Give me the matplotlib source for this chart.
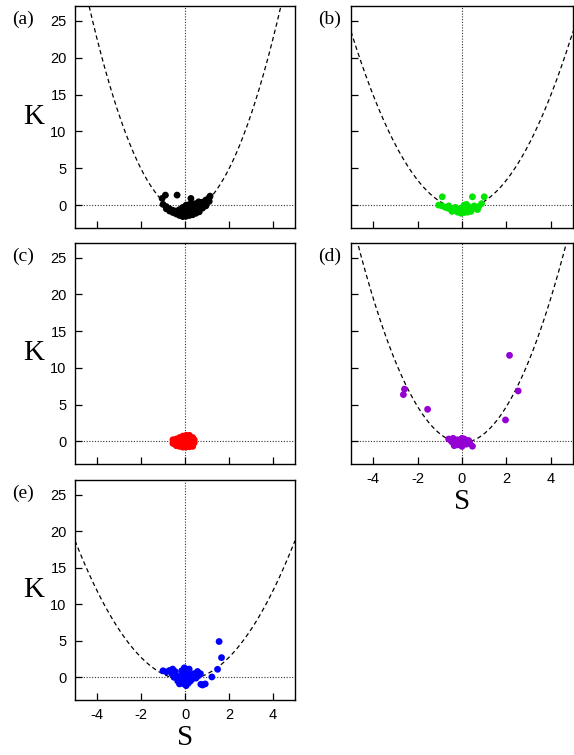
import numpy as np
import matplotlib
matplotlib.use("Agg")
import matplotlib.pyplot as plt

plt.rcParams["axes.unicode_minus"] = False

# Skewness (S) vs. kurtosis (K) of each data set, with the parabolic bound K = a*S^2 + b
panel_labels = ["(a)", "(b)", "(c)", "(d)", "(e)"]
colors = ["#000000", "#00e600", "#ff0000", "#9400d3", "#0000ff"]

# parabola coefficients (a, b) per panel; (c) has no curve
parab_a = [1.47, 0.96, None, 1.23, 0.76]
parab_b = [-0.95, -0.45, None, -0.2, -0.3]

# (a)
S_a = [-1.04, -0.89, -0.36, 0.27, 0.62, 1.14, 1.02,
       -1.0, -0.85, -0.85, -0.7, -0.7, -0.55, -0.55, -0.4, -0.4,
       -0.25, -0.25, -0.25, -0.1, -0.1, -0.1, -0.1,
       0.05, 0.05, 0.05, 0.05, 0.05, 0.2, 0.2, 0.2, 0.2, 0.2,
       0.35, 0.35, 0.35, 0.35, 0.35, 0.5, 0.5, 0.5, 0.5,
       0.65, 0.65, 0.65, 0.65, 0.8, 0.8, 0.8, 0.95, 0.95, 0.95, 1.1, 1.1]
K_a = [0.91, 1.36, 1.36, 0.91, 0.45, 1.22, 0.68,
       0.1, -0.2, -0.5, -0.5, -0.8, -0.7, -1.0, -0.8, -1.2,
       -0.6, -1.0, -1.4, -0.3, -0.8, -1.2, -1.55,
       0.0, -0.5, -0.9, -1.3, -1.5, 0.1, -0.3, -0.7, -1.1, -1.4,
       0.2, -0.2, -0.6, -1.0, -1.3, 0.2, -0.2, -0.6, -1.1,
       0.3, -0.1, -0.5, -0.9, 0.4, 0.0, -0.4, 0.7, 0.3, -0.1, 1.0, 0.5]

# (b)
S_b = [-0.89, 0.47, 1.0, -1.05, -0.9, -0.75, -0.6, -0.45, -0.3, -0.15,
       0.0, 0.15, 0.3, 0.45, 0.6, 0.75, 0.88, -0.6, -0.3, -0.05, 0.1,
       0.2, 0.3, 0.55, -0.05, 0.1, -0.2, 0.25, 0.4, -0.45, 0.7]
K_b = [1.13, 1.13, 1.13, 0.0, -0.1, -0.3, -0.45, -0.55, -0.65, -0.7,
       -0.75, -0.7, -0.6, -0.5, -0.4, -0.2, 0.2, -0.1, -0.3, -0.4, 0.0,
       0.1, -0.2, -0.1, -1.1, -1.0, -0.95, -0.95, -0.85, -0.85, -0.6]

# (c)
S_c = [-0.55, -0.55, -0.4, -0.4, -0.4, -0.25, -0.25, -0.25, -0.25,
       -0.1, -0.1, -0.1, -0.1, -0.1, 0.05, 0.05, 0.05, 0.05, 0.05,
       0.2, 0.2, 0.2, 0.2, 0.2, 0.35, 0.35, 0.35, 0.35, 0.42, 0.42]
K_c = [-0.3, 0.2, -0.6, -0.2, 0.3, -0.7, -0.3, 0.1, 0.5,
       -0.8, -0.4, 0.0, 0.4, 0.7, -0.8, -0.4, 0.0, 0.4, 0.8,
       -0.75, -0.35, 0.05, 0.45, 0.8, -0.7, -0.3, 0.1, 0.5, -0.2, 0.2]

# (d)
S_d = [2.14, 2.53, 1.96, -2.59, -2.64, -1.55, 0.47, -0.6, -0.5, -0.4,
       -0.3, -0.2, -0.1, 0.0, 0.1, 0.2, 0.3, -0.35, -0.2, 0.05, 0.15,
       -0.45, -0.25, 0.0, 0.2, 0.35]
K_d = [11.7, 6.85, 2.9, 7.1, 6.35, 4.35, -0.68, 0.3, 0.1, 0.4, -0.2,
       -0.5, 0.1, -0.7, 0.3, -0.4, 0.1, -0.6, 0.2, 0.0, -0.3, -0.1,
       -0.4, 0.4, 0.1, -0.2]

# (e)
S_e = [1.55, 1.66, 1.48, 1.22, 0.92, 0.8, 0.72,
       -1.0, -0.85, -0.7, -0.56, -0.45, -0.6, -0.4, -0.3, -0.33, -0.2,
       -0.1, -0.03, 0.05, 0.19, 0.1, 0.0, -0.15, 0.05, 0.15, 0.25, 0.34,
       0.45, 0.57, 0.7, 0.6, 0.3, 0.2, -0.05, -0.25, -0.5, 0.4, 0.5,
       -0.15, 0.1]
K_e = [4.9, 2.7, 1.1, 0.05, -0.9, -1.05, -0.95,
       0.9, 0.75, 0.95, 1.13, 0.8, 0.5, 0.3, -0.2, -0.5, -0.7,
       -0.4, 1.3, 1.1, 1.13, 0.7, 0.4, 0.2, -1.14, -0.8, -0.5, -0.2,
       0.1, 0.8, 0.5, 0.2, 0.3, 0.0, -0.9, -0.9, 0.0, 0.5, -0.1,
       0.9, -0.2]

S_sets = [S_a, S_b, S_c, S_d, S_e]
K_sets = [K_a, K_b, K_c, K_d, K_e]

x_ticks = [-4, -2, 0, 2, 4]
y_ticks = [0, 5, 10, 15, 20, 25]

W, H = 574, 755
fig = plt.figure(figsize=(W / 100, H / 100), dpi=100)

# axes boxes in pixels: (left, right) per column, (top, bottom) per row
col_x = [(75, 295), (351, 573)]
row_y = [(6, 228), (243, 464), (480, 700)]
slots = [(0, 0), (0, 1), (1, 0), (1, 1), (2, 0)]
label_x = [12, 318]

sans = "Liberation Sans"
serif = "Liberation Serif"

for i, (r, c) in enumerate(slots):
    x0, x1 = col_x[c]
    y0, y1 = row_y[r]
    ax = fig.add_axes([x0 / W, 1 - y1 / H, (x1 - x0) / W, (y1 - y0) / H])
    ax.set_xlim(-5, 5)
    ax.set_ylim(-3.1, 27)

    ax.axhline(0, color="#333333", lw=0.8, ls=(0, (1, 1.5)), zorder=1)
    ax.axvline(0, color="#333333", lw=0.8, ls=(0, (1, 1.5)), zorder=1)

    if parab_a[i] is not None:
        s = np.linspace(-5, 5, 400)
        ax.plot(s, parab_a[i] * s ** 2 + parab_b[i], color="black", lw=0.9,
                ls=(0, (3.5, 2.5)), zorder=2)

    ax.scatter(S_sets[i], K_sets[i], s=24, color=colors[i], edgecolors="none",
               zorder=3)

    ax.set_xticks(x_ticks)
    ax.set_yticks(y_ticks)
    ax.tick_params(direction="in", length=5, width=0.9, top=False, right=False,
                   labelsize=10.5, pad=6)
    for lab in ax.get_xticklabels() + ax.get_yticklabels():
        lab.set_family(sans)
    for sp in ax.spines.values():
        sp.set_linewidth(1.0)

    if c == 0:
        ax.set_ylabel("K", family=serif, fontsize=21, rotation=0,
                      labelpad=12, va="center")
    else:
        ax.tick_params(labelleft=False)
    if i in (3, 4):
        ax.set_xlabel("S", family=serif, fontsize=21, labelpad=2)
    else:
        ax.tick_params(labelbottom=False)

    fig.text(label_x[c] / W, 1 - (y0 + 13) / H, panel_labels[i], family=serif,
             fontsize=14, va="center", ha="left")

fig.savefig("out.png", dpi=100)
